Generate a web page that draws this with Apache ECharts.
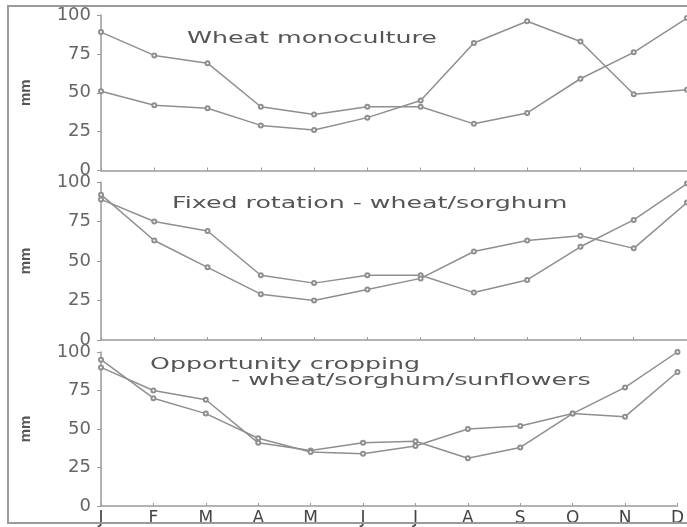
<!DOCTYPE html>
<html>
<head>
<meta charset="utf-8">
<script src="https://cdn.jsdelivr.net/npm/echarts@6/dist/echarts.min.js"></script>
<style>
html,body{margin:0;padding:0;background:#fff;}
#chart{width:687px;height:527px;}
</style>
</head>
<body>
<div id="chart"></div>
<script>
const months = ['J','F','M','A','M','J','J','A','S','O','N','D'];
const yTicks = [0, 25, 50, 75, 100];
const panelTitles = ['Wheat monoculture', 'Fixed rotation - wheat/sorghum', 'Opportunity cropping', '- wheat/sorghum/sunflowers'];
const wheatMonoA = [89, 74, 69, 41, 36, 41, 41, 30, 37, 59, 76, 98];
const wheatMonoB = [51, 42, 40, 29, 26, 34, 45, 82, 96, 83, 49, 52];
const fixedRotA  = [89, 75, 69, 41, 36, 41, 41, 30, 38, 59, 76, 99];
const fixedRotB  = [92, 63, 46, 29, 25, 32, 39, 56, 63, 66, 58, 87];
const oppCropA   = [90, 75, 69, 41, 36, 41, 42, 31, 38, 60, 77, 100];
const oppCropB   = [95, 70, 60, 44, 35, 34, 39, 50, 52, 60, 58, 87];

const panels = [
  {top: 15,  height: 155.5, a: wheatMonoA, b: wheatMonoB},
  {top: 182, height: 158,   a: fixedRotA,  b: fixedRotB},
  {top: 352, height: 156,   a: oppCropA,   b: oppCropB}
];

const lineColor = '#8f8f8f';
const axisColor = '#9a9a9a';
const font = '"DejaVu Sans", sans-serif';

const grid = [], xAxis = [], yAxis = [], series = [];
panels.forEach((p, i) => {
  grid.push({left: 101, right: -5, top: p.top, height: p.height, containLabel: false});
  xAxis.push({
    type: 'category', gridIndex: i, data: months, boundaryGap: false,
    axisLine: {show: true, lineStyle: {color: axisColor, width: 1.5}},
    axisTick: {show: true, inside: true, length: 3, lineStyle: {color: axisColor}},
    axisLabel: {show: i === 2, color: '#444', fontFamily: font, fontSize: 17, margin: 4, interval: 0},
    splitLine: {show: false}
  });
  yAxis.push({
    type: 'value', gridIndex: i, min: yTicks[0], max: yTicks[yTicks.length - 1], interval: 25,
    name: 'mm', nameLocation: 'middle', nameRotate: 90, nameGap: 68,
    nameTextStyle: {color: '#555', fontFamily: '"Liberation Sans", sans-serif', fontSize: 15, fontWeight: 'bold'},
    axisLine: {show: true, lineStyle: {color: axisColor, width: 1.5}},
    axisTick: {show: true, inside: false, length: 4, lineStyle: {color: axisColor}},
    axisLabel: {color: '#666', fontFamily: font, fontSize: 18, margin: 10},
    splitLine: {show: false}
  });
  [p.a, p.b].forEach(d => {
    series.push({
      type: 'line', xAxisIndex: i, yAxisIndex: i, data: d,
      symbol: 'emptyCircle', symbolSize: 4, showSymbol: true,
      lineStyle: {color: lineColor, width: 1.5},
      itemStyle: {color: lineColor, borderColor: lineColor, borderWidth: 1},
      animation: false, silent: true
    });
  });
});

function titleText(txt, x, y) {
  return {type: 'text', x: x, y: y, scaleX: 1.58, scaleY: 1,
    style: {text: txt, fontFamily: font, fontSize: 16, fill: '#555', align: 'left', verticalAlign: 'middle'}};
}

const option = {
  backgroundColor: '#fff',
  animation: false,
  grid: grid, xAxis: xAxis, yAxis: yAxis, series: series,
  graphic: [
    {type: 'rect', shape: {x: 8, y: 6, width: 700, height: 517}, style: {fill: 'none', stroke: '#9a9a9a', lineWidth: 2}, z: 10},
    titleText(panelTitles[0], 187, 39),
    titleText(panelTitles[1], 172, 204),
    titleText(panelTitles[2], 150, 365),
    titleText(panelTitles[3], 231, 381)
  ]
};

const chart = echarts.init(document.getElementById('chart'), null, {renderer: 'canvas'});
chart.setOption(option);
</script>
</body>
</html>
